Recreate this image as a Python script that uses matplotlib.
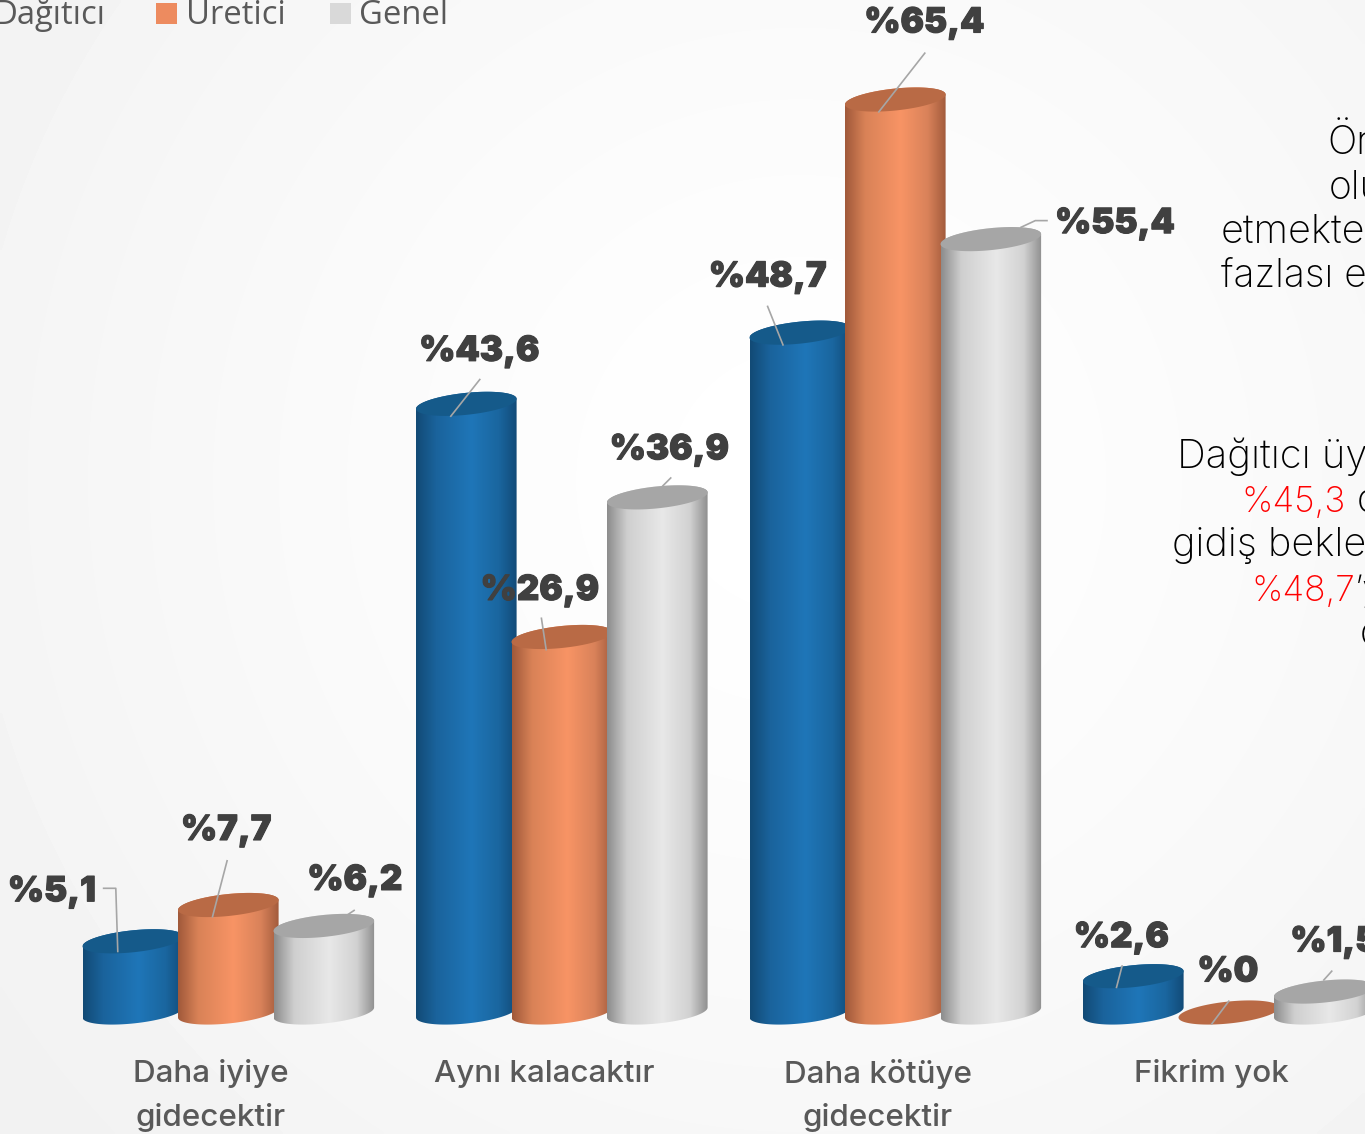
"""
Dagitici / Uretici / Genel beklenti grafigi - silindir sutunlar
"""
import numpy as np
import matplotlib
matplotlib.use('Agg')
import matplotlib.pyplot as plt
import matplotlib.patheffects as pe
from matplotlib.patches import Polygon, Rectangle
from matplotlib.colors import LinearSegmentedColormap

categories = [['Daha iyiye', 'gidecektir'], ['Aynı kalacaktır'], ['Daha kötüye', 'gidecektir'], ['Fikrim yok']]
dagitici = [5.1, 43.6, 48.7, 2.6]
uretici = [7.7, 26.9, 65.4, 0.0]
genel = [6.2, 36.9, 55.4, 1.5]
value_labels = [['%5,1', '%43,6', '%48,7', '%2,6'],
                ['%7,7', '%26,9', '%65,4', '%0'],
                ['%6,2', '%36,9', '%55,4', '%1,5']]
legend_names = ['Dağıtıcı', 'Üretici', 'Genel']

# pixel olcekleri
W, H = 1365, 1134
PX_PER_GROUP = 333.5
PX_PER_UNIT = 13.96
X0_PX = 228.3
BASE_PX = 1012.5
BAR_OFFSET = 95.5 / PX_PER_GROUP
RX, RY, TILT = 50.3, 11.0, 5.0


def px_x(px):
    return (px - X0_PX) / PX_PER_GROUP


def px_y(py):
    return (BASE_PX - py) / PX_PER_UNIT


# renkler: kenar, orta, ust kapak
STYLES = [
    {'stops': ['#124a75', '#1a639c', '#1f76b8', '#1a669f', '#124b78'], 'cap': '#155a8a'},
    {'stops': ['#a0593a', '#d98257', '#f89465', '#d9825a', '#a25b3c'], 'cap': '#b96a45'},
    {'stops': ['#8c8c8c', '#cfcfcf', '#e8e8e8', '#d2d2d2', '#8f8f8f'], 'cap': '#a6a6a6'},
]

# etiket konumlari: sutun tepesine gore piksel (dx, yukari dy)
LABEL_OFFSETS = [
    [(-81, 49), (13, 52), (-32, 55), (-12, 38)],
    [(-2, 74), (-22, 46), (29, 76), (-1, 40)],
    [(31, 45), (12, 47), (124, 15), (10, 49)],
]
LEADERS = [
    [[(-30, 53), (-17, 53), (-15, -11)], [(14, 25), (-16, -13)],
     [(-32.5, 27), (-16.5, -13)], [(-11, 11), (-17, -12)]],
    [[(-1, 45), (-16, -12.5)], [(-20.5, 19.5), (-15.5, -13.5)],
     [(30, 47), (-17, -13)], [(0.5, 12), (-17.5, -12)]],
    [[(31, 16), (22, 10)], [(14, 20), (5, 11)],
     [(57, 18.5), (44.5, 18.5), (29.5, 11.5)], [(8, 21), (-1, 11)]],
]

TEXT_FONT = ['Inter', 'DejaVu Sans']
LABEL_FONT = ['Inter', 'DejaVu Sans']
LEGEND_FONT = ['Open Sans', 'DejaVu Sans']


def ellipse(cx, y0, t):
    """Egik elips: cx veri, y0 veri birimi"""
    xs = cx + RX * np.cos(t) / PX_PER_GROUP
    ys = y0 + (RY * np.sin(t) + TILT * np.cos(t)) / PX_PER_UNIT
    return xs, ys


def draw_cylinder(ax, cx, value, style, z):
    cmap = LinearSegmentedColormap.from_list(
        'c', list(zip([0.0, 0.2, 0.55, 0.82, 1.0], style['stops'])))
    # on yuz: alt yarim elips + ust kapak
    t_low = np.linspace(np.pi, 2 * np.pi, 80)
    bx, by = ellipse(cx, 0.0, t_low)
    t_top = np.linspace(0, 2 * np.pi, 160)
    tx, ty = ellipse(cx, value, t_top)

    if value > 0:
        t_back = np.linspace(0, np.pi, 80)
        ux, uy = ellipse(cx, value, t_back)
        body = Polygon(np.column_stack([np.r_[bx, ux], np.r_[by, uy]]),
                       closed=True, transform=ax.transData, fc='none', ec='none')
        ax.add_patch(body)
        grad = np.linspace(0, 1, 256).reshape(1, -1)
        w = RX / PX_PER_GROUP
        im = ax.imshow(grad, cmap=cmap, aspect='auto', zorder=z, interpolation='bilinear',
                       extent=[cx - w, cx + w, -2, value + 2])
        im.set_clip_path(body)

    ax.add_patch(Polygon(np.column_stack([tx, ty]), closed=True, fc=style['cap'],
                         ec='none', zorder=z + 0.1))


fig = plt.figure(figsize=(W / 100, H / 100), dpi=100)
ax = fig.add_axes([0, 0, 1, 1])

# arka plan: hafif radyal gecis
yy, xx = np.mgrid[0:H:4, 0:W:4]
r = np.hypot(xx - 800, yy - 480) / 950
bg = 255 - 13 * np.clip(r, 0, 1) ** 1.3
ax.imshow(bg, cmap='gray', vmin=0, vmax=255, aspect='auto', zorder=0,
          extent=[px_x(0), px_x(W), px_y(H), px_y(0)], interpolation='bilinear')

x = np.arange(len(categories))
series = [dagitici, uretici, genel]

z = 2
for g in x:
    for s, values in enumerate(series):
        cx = g + (s - 1) * BAR_OFFSET
        draw_cylinder(ax, cx, values[g], STYLES[s], z)
        z += 1

# cizgiler ve deger etiketleri en ustte
for s, values in enumerate(series):
    for g in x:
        cx = g + (s - 1) * BAR_OFFSET
        pts = np.array(LEADERS[s][g], dtype=float)
        ax.plot(cx + pts[:, 0] / PX_PER_GROUP, values[g] + pts[:, 1] / PX_PER_UNIT,
                color='#a6a6a6', lw=1.2, zorder=50, solid_capstyle='butt')
        dx, dy = LABEL_OFFSETS[s][g]
        t = ax.text(cx + dx / PX_PER_GROUP, values[g] + dy / PX_PER_UNIT, value_labels[s][g],
                    ha='center', va='center', fontsize=25, fontweight=900,
                    color='#404040', family=LABEL_FONT, zorder=60)
        t.set_path_effects([pe.withStroke(linewidth=0.8, foreground='#404040')])

# kategori etiketleri (grup merkezinin biraz solunda)
for g, lines in zip(x, categories):
    for i, line in enumerate(lines):
        ax.text(g - 17.5 / PX_PER_GROUP, px_y(1074 + 44 * i), line, ha='center', va='center',
                fontsize=22.6, fontweight='medium', color='#595959', family=TEXT_FONT, zorder=60)

# legend (ust kenarda kesik)
ax.text(px_x(-6), px_y(24), legend_names[0], ha='left', va='baseline', fontsize=23.6,
        color='#595959', family=LEGEND_FONT, zorder=60)
ax.text(px_x(186), px_y(24), legend_names[1], ha='left', va='baseline', fontsize=23.6,
        color='#595959', family=LEGEND_FONT, zorder=60)
ax.text(px_x(359), px_y(24), legend_names[2], ha='left', va='baseline', fontsize=23.6,
        color='#595959', family=LEGEND_FONT, zorder=60)
for left, col in [(156, '#ed8b5f'), (330, '#d9d9d9')]:
    ax.add_patch(Rectangle((px_x(left), px_y(24)), 21 / PX_PER_GROUP, 21 / PX_PER_UNIT,
                           fc=col, ec='none', zorder=60))

# sagdaki metin (kenarda kesik)
side_text = [('Ör', 1327, 154, 'black', 28), ('olu', 1329, 199, 'black', 28),
             ('etmekte', 1221, 243, 'black', 28.5), ('fazlası e', 1221, 287, 'black', 28),
             ('Dağıtıcı üy', 1177, 468, 'black', 28.8), ('%45,3', 1241, 512, 'red', 25.5),
             ('d', 1357, 512, 'black', 28), ('gidiş beklen', 1172, 556, 'black', 28.5),
             ('%48,7', 1251, 601, 'red', 25.5), ('’y', 1355, 601, 'black', 26),
             ('d', 1360, 645, 'black', 28)]
for txt, left, base, col, size in side_text:
    ax.text(px_x(left), px_y(base), txt, ha='left', va='baseline', fontsize=size,
            fontweight='light', color=col, family=TEXT_FONT, zorder=60)

ax.set_xlim(px_x(0), px_x(W))
ax.set_ylim(px_y(H), px_y(0))
ax.axis('off')

plt.savefig('out.png', dpi=100)
plt.close()
